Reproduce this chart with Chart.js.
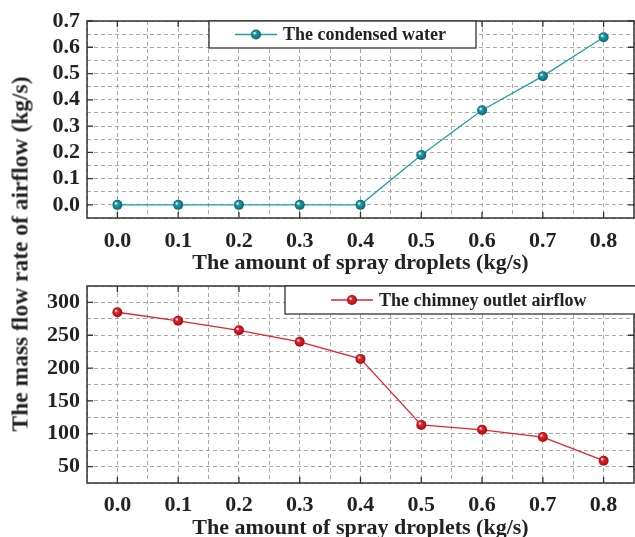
<!DOCTYPE html>
<html>
<head>
<meta charset="utf-8">
<script src="https://cdn.jsdelivr.net/npm/chart.js@4.4.1/dist/chart.umd.min.js"></script>
<style>
    html, body { margin: 0; padding: 0; background: #fff; overflow: hidden; }
    #wrap { position: relative; width: 635px; height: 537px; overflow: hidden; }
    canvas { position: absolute; left: 0; }
    #top-chart { top: 0; }
    #bottom-chart { top: 262px; }
    #y-title {
        position: absolute; left: 20px; top: 254px;
        transform: translate(-50%, -50%) rotate(-90deg);
        white-space: nowrap;
        font: bold 23.5px 'Liberation Serif', 'Times New Roman', serif;
        color: #222;
    }
</style>
</head>
<body>
<div id="wrap">
    <canvas id="top-chart" width="639" height="279"></canvas>
    <canvas id="bottom-chart" width="639" height="285"></canvas>
    <div id="y-title">The mass flow rate of airflow (kg/s)</div>
</div>
<script>
// --- Data ---
const sprayAmounts = [0.0, 0.1, 0.2, 0.3, 0.4, 0.5, 0.6, 0.7, 0.8];
const condensedWater = [0, 0, 0, 0, 0, 0.19, 0.36, 0.49, 0.638];
const chimneyAirflow = [285, 272, 257.5, 240, 214, 113.5, 106, 95, 59];
const condensedLabel = 'The condensed water';
const chimneyLabel = 'The chimney outlet airflow';
const xTitle = 'The amount of spray droplets (kg/s)';

// --- Styles ---
const FONT = "'Liberation Serif', 'Times New Roman', serif";
const TEXT = '#222';
const TEAL = '#1f9eac';
const RED = '#e8232b';

Chart.defaults.font.family = FONT;
Chart.defaults.color = TEXT;

/** Shaded ball marker **/
function ballFill(base, dark) {
    return (ctx) => {
        const el = ctx.element;
        if (!el || el.x === undefined) return base;
        const c = ctx.chart.ctx;
        const g = c.createRadialGradient(el.x - 1.7, el.y - 1.7, 0.3, el.x, el.y, 5.2);
        g.addColorStop(0, '#ffffff');
        g.addColorStop(0.3, base);
        g.addColorStop(1, dark);
        return g;
    };
}

/** Frame + inward ticks **/
const framePlugin = {
    id: 'frame',
    afterDatasetsDraw(chart) {
        const { ctx, chartArea: a, scales } = chart;
        ctx.save();
        ctx.strokeStyle = '#333';
        ctx.lineWidth = 1.5;
        ctx.strokeRect(a.left, a.top, a.right - a.left, a.bottom - a.top);
        ctx.lineWidth = 1.3;
        ctx.beginPath();
        scales.x.ticks.forEach(t => {
            if (!t.label) return;
            const px = scales.x.getPixelForValue(t.value);
            ctx.moveTo(px, a.bottom); ctx.lineTo(px, a.bottom - 6);
            ctx.moveTo(px, a.top); ctx.lineTo(px, a.top + 6);
        });
        scales.y.ticks.forEach(t => {
            if (!t.label) return;
            const py = scales.y.getPixelForValue(t.value);
            ctx.moveTo(a.left, py); ctx.lineTo(a.left + 6, py);
            ctx.moveTo(a.right, py); ctx.lineTo(a.right - 6, py);
        });
        ctx.stroke();
        ctx.restore();
    }
};

/** Boxed legend in the chart area **/
function boxLegend(box) {
    return {
        id: 'boxLegend',
        afterDraw(chart) {
            const { ctx, chartArea: a } = chart;
            const ds = chart.data.datasets[0];
            const top = a.top;
            ctx.save();
            ctx.fillStyle = '#fff';
            ctx.fillRect(box.left, top, box.right - box.left, box.height);
            ctx.strokeStyle = '#333';
            ctx.lineWidth = 1.3;
            ctx.strokeRect(box.left, top, box.right - box.left, box.height);
            const cy = top + box.height / 2;
            ctx.strokeStyle = ds.borderColor;
            ctx.lineWidth = 1.3;
            ctx.beginPath();
            ctx.moveTo(box.lineStart, cy);
            ctx.lineTo(box.lineStart + 42, cy);
            ctx.stroke();
            const mx = box.lineStart + 21;
            const g = ctx.createRadialGradient(mx - 1.7, cy - 1.7, 0.3, mx, cy, 5.2);
            g.addColorStop(0, '#ffffff');
            g.addColorStop(0.3, ds.borderColor);
            g.addColorStop(1, box.dark);
            ctx.fillStyle = g;
            ctx.beginPath();
            ctx.arc(mx, cy, 5, 0, Math.PI * 2);
            ctx.fill();
            ctx.fillStyle = TEXT;
            ctx.font = 'bold 18px ' + FONT;
            ctx.textBaseline = 'middle';
            ctx.fillText(ds.label, box.lineStart + 48, cy + 1);
            ctx.restore();
        }
    };
}

function isMajor(v, step) {
    return Math.abs(v / step - Math.round(v / step)) < 1e-6;
}

function buildChart(canvasId, opts) {
    const points = sprayAmounts.map((x, i) => ({ x, y: opts.values[i] }));
    return new Chart(document.getElementById(canvasId), {
        type: 'line',
        data: {
            datasets: [{
                label: opts.label,
                data: points,
                borderColor: opts.color,
                borderWidth: 1.3,
                pointRadius: 5,
                pointBorderWidth: 0,
                pointBackgroundColor: ballFill(opts.color, opts.dark),
                tension: 0
            }]
        },
        options: {
            responsive: false,
            animation: false,
            events: [],
            layout: { padding: { top: opts.padTop, right: 1, left: 0, bottom: 0 } },
            plugins: { legend: { display: false }, tooltip: { enabled: false } },
            scales: {
                x: {
                    type: 'linear',
                    min: -0.05, max: 0.85,
                    afterFit: s => { s.height = opts.xHeight; s.paddingLeft = 0; s.paddingRight = 0; },
                    ticks: {
                        stepSize: 0.05,
                        padding: opts.xTickPad,
                        maxRotation: 0,
                        autoSkip: false,
                        font: { size: 22, weight: 'bold' },
                        color: TEXT,
                        callback: v => isMajor(v, 0.1) && v >= 0 && v <= 0.8 ? v.toFixed(1) : ''
                    },
                    grid: { color: '#a8a8a8', lineWidth: 1, drawTicks: false },
                    border: { display: false, dash: [4, 3] },
                    title: {
                        display: true, text: xTitle, color: TEXT,
                        font: { size: 22, weight: 'bold' },
                        padding: { top: 0, bottom: opts.titlePad }
                    }
                },
                y: {
                    min: opts.yMin, max: opts.yMax,
                    afterFit: s => { s.width = 87; },
                    ticks: {
                        stepSize: opts.yStep / 2,
                        padding: 7,
                        autoSkip: false,
                        font: { size: 22, weight: 'bold' },
                        color: TEXT,
                        callback: v => (isMajor(v, opts.yStep) && v >= opts.yFirst) ? opts.fmt(v) : ''
                    },
                    grid: { color: '#a8a8a8', lineWidth: 1, drawTicks: false },
                    border: { display: false, dash: [4, 3] }
                }
            }
        },
        plugins: [framePlugin, boxLegend(opts.box)]
    });
}

buildChart('top-chart', {
    label: condensedLabel,
    values: condensedWater,
    color: TEAL, dark: '#0c5f6a',
    yMin: -0.05, yMax: 0.7, yStep: 0.1, yFirst: 0,
    fmt: v => v.toFixed(1),
    padTop: 21, xHeight: 61, xTickPad: 10, titlePad: 2,
    box: { left: 209, right: 476, height: 27, lineStart: 235, dark: '#0c5f6a' }
});

buildChart('bottom-chart', {
    label: chimneyLabel,
    values: chimneyAirflow,
    color: RED, dark: '#9a0c10',
    yMin: 25, yMax: 325, yStep: 50, yFirst: 50,
    fmt: v => String(Math.round(v)),
    padTop: 24, xHeight: 64, xTickPad: 9, titlePad: 5,
    box: { left: 285, right: 650, height: 28, lineStart: 331, dark: '#9a0c10' }
});
</script>
</body>
</html>
